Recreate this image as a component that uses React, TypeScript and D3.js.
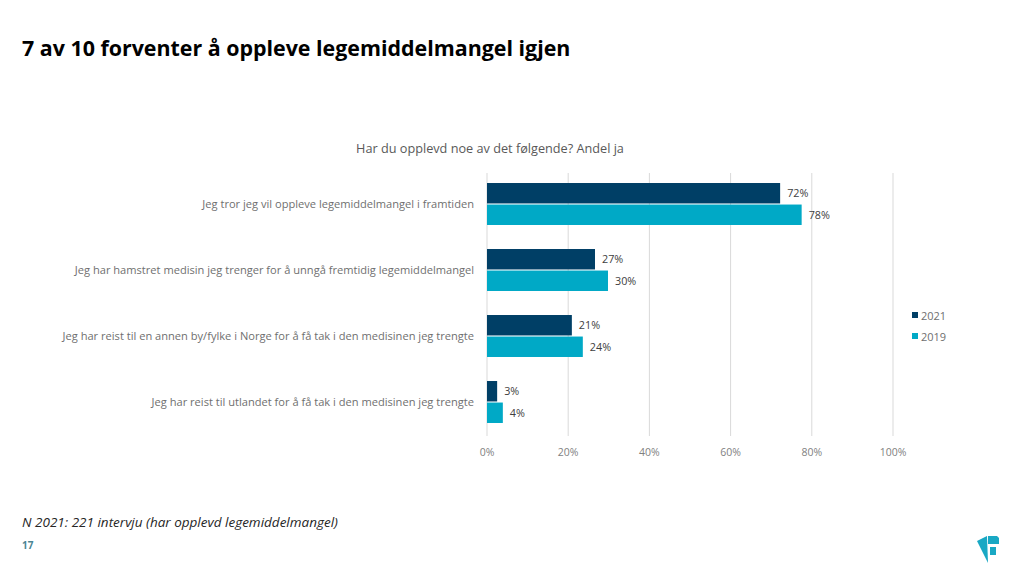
import React from "react";
import * as d3 from "d3";

const categories = [
  "Jeg tror jeg vil oppleve legemiddelmangel i framtiden",
  "Jeg har hamstret medisin jeg trenger for å unngå fremtidig legemiddelmangel",
  "Jeg har reist til en annen by/fylke i Norge for å få tak i den medisinen jeg trengte",
  "Jeg har reist til utlandet for å få tak i den medisinen jeg trengte",
];
const seriesNames = ["2021", "2019"];
const values2021 = [72.2, 26.6, 20.9, 2.5];
const values2019 = [77.5, 29.8, 23.6, 3.9];
const xTicks = [0, 20, 40, 60, 80, 100];
const colors = ["#003f66", "#00a9c6"];

const FONT = "'Open Sans', sans-serif";

export default function App() {
  const W = 1024, H = 576;
  const x = d3.scaleLinear().domain([0, 100]).range([487, 893]);
  const y = d3.scaleBand<string>().domain(categories).range([171, 435]).paddingInner(0.364).paddingOuter(0.182);
  const ySub = d3.scaleBand<string>().domain(seriesNames).range([0, y.bandwidth()]).paddingInner(0.05);
  const series = [values2021, values2019];
  const logoA = d3.line()([[977, 541], [987, 536], [988, 563]]) + "Z";
  const logoB = d3.line()([[988, 536], [997, 536], [999, 538], [999, 544], [988, 544]]) + "Z";
  const logoC = d3.line()([[990, 547], [996, 547], [996, 555], [990, 555]]) + "Z";

  return (
    <svg width={W} height={H} style={{ position: "absolute", left: 0, top: 0, background: "#fff" }}>
      <rect width={W} height={H} fill="#fff" />
      <text x={22} y={56} fontFamily={FONT} fontWeight={700} fontSize={21.4} fill="#000">
        7 av 10 forventer å oppleve legemiddelmangel igjen
      </text>
      <text x={490} y={153} textAnchor="middle" fontFamily={FONT} fontSize={12.7} fill="#595959">
        Har du opplevd noe av det følgende? Andel ja
      </text>
      {xTicks.map((t) => (
        <g key={t}>
          <line x1={x(t)} x2={x(t)} y1={173} y2={436} stroke="#d9d9d9" strokeWidth={1} />
          <text x={x(t)} y={456} textAnchor="middle" fontFamily={FONT} fontSize={10.5} fill="#7f7f7f">
            {t}%
          </text>
        </g>
      ))}
      {categories.map((c, i) => (
        <g key={c}>
          <text
            x={474}
            y={(y(c) as number) + y.bandwidth() / 2 + 4}
            textAnchor="end"
            fontFamily={FONT}
            fontSize={11.1}
            fill="#6f6f6f"
          >
            {c}
          </text>
          {series.map((vals, s) => {
            const yy = (y(c) as number) + (ySub(seriesNames[s]) as number);
            return (
              <g key={s}>
                <rect x={x(0)} y={yy} width={x(vals[i]) - x(0)} height={ySub.bandwidth()} fill={colors[s]} />
                <text
                  x={x(vals[i]) + 7}
                  y={yy + ySub.bandwidth() / 2 + 4}
                  fontFamily={FONT}
                  fontSize={10.8}
                  fill="#404040"
                >
                  {Math.round(vals[i])}%
                </text>
              </g>
            );
          })}
        </g>
      ))}
      {seriesNames.map((n, s) => (
        <g key={n}>
          <rect x={912} y={312 + s * 21} width={6} height={6} fill={colors[s]} />
          <text x={921} y={319.5 + s * 21} fontFamily={FONT} fontSize={11} fill="#6f6f6f">
            {n}
          </text>
        </g>
      ))}
      <text x={22} y={527} fontFamily={FONT} fontStyle="italic" fontSize={13.5} fill="#262626">
        N 2021: 221 intervju (har opplevd legemiddelmangel)
      </text>
      <text x={22} y={549} fontFamily={FONT} fontWeight={700} fontSize={10} fill="#4b8593">
        17
      </text>
      <path d={logoA} fill="#19a8c4" />
      <path d={logoB} fill="#19a8c4" />
      <path d={logoC} fill="#19a8c4" />
    </svg>
  );
}
